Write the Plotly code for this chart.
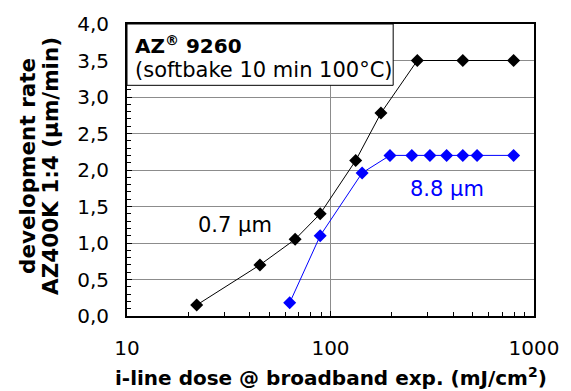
import plotly.graph_objects as go

# Data
dose_07 = [22, 45, 67, 89, 133, 177, 267, 447, 794]
rate_07 = [0.15, 0.70, 1.05, 1.40, 2.13, 2.78, 3.50, 3.50, 3.50]

dose_88 = [63, 89, 143, 196, 251, 308, 372, 447, 525, 794]
rate_88 = [0.18, 1.10, 1.96, 2.20, 2.20, 2.20, 2.20, 2.20, 2.20, 2.20]

x_tickvals = [10, 100, 1000]
x_ticktext = ["10", "100", "1000"]
x_minor = [20, 30, 40, 50, 60, 70, 80, 90, 200, 300, 400, 500, 600, 700, 800, 900]

FONT = "DejaVu Sans"
GRID = "#8c8c8c"

fig = go.Figure()
fig.add_trace(go.Scatter(
    x=dose_07, y=rate_07, mode="lines+markers", name="0.7 µm",
    line=dict(color="black", width=1),
    marker=dict(symbol="diamond", size=10, color="black"),
    cliponaxis=False,
))
fig.add_trace(go.Scatter(
    x=dose_88, y=rate_88, mode="lines+markers", name="8.8 µm",
    line=dict(color="#0000ff", width=1),
    marker=dict(symbol="diamond", size=10, color="#0000ff"),
    cliponaxis=False,
))

fig.update_layout(
    width=571, height=391,
    margin=dict(l=127, r=36, t=16, b=75),
    paper_bgcolor="white", plot_bgcolor="white",
    showlegend=False,
    separators=",.",
    font=dict(family=FONT, size=20, color="black"),
    xaxis=dict(
        type="log", range=[1, 3],
        tickvals=x_tickvals, ticktext=x_ticktext,
        showgrid=True, gridcolor=GRID, gridwidth=1,
        ticks="inside", ticklen=5, tickcolor="black",
        minor=dict(tickvals=x_minor, ticks="inside", ticklen=4,
                   tickcolor="black", showgrid=False),
        showline=True, linecolor="black", linewidth=2, mirror=True,
        zeroline=False,
        ticklabelstandoff=13,
        tickfont=dict(size=20),
    ),
    yaxis=dict(
        range=[0, 4], dtick=0.5, tick0=0, tickformat=".1f",
        showgrid=True, gridcolor=GRID, gridwidth=1,
        ticks="inside", ticklen=5, tickcolor="black",
        minor=dict(dtick=0.1, ticks="inside", ticklen=4,
                   tickcolor="black", showgrid=False),
        showline=True, linecolor="black", linewidth=2, mirror=True,
        zeroline=False,
        ticklabelstandoff=12,
        tickfont=dict(size=20),
    ),
)

# info box in the top-left corner of the plot
fig.add_shape(
    type="rect", xref="paper", yref="paper",
    x0=0, x1=0.654, y0=0.79, y1=1,
    line=dict(color="black", width=1), fillcolor="white", layer="above",
)
fig.add_annotation(
    text="<b>AZ<sup>®</sup> 9260</b>",
    xref="paper", yref="paper", x=0, y=0.929, xshift=6,
    xanchor="left", yanchor="middle", showarrow=False,
    font=dict(size=20, color="black"),
)
fig.add_annotation(
    text="(softbake 10 min 100°C)",
    xref="paper", yref="paper", x=0, y=0.842, xshift=6,
    xanchor="left", yanchor="middle", showarrow=False,
    font=dict(size=21, color="black"),
)
fig.add_annotation(
    text="0.7 µm", x=1.533, y=1.24, showarrow=False,
    bgcolor="white", borderpad=5, font=dict(size=21, color="black"),
)
fig.add_annotation(
    text="8.8 µm", x=2.572, y=1.743, showarrow=False,
    font=dict(size=21, color="#0000ff"),
)
fig.add_annotation(
    text="<b>i-line dose @ broadband exp. (mJ/cm<sup>2</sup>)</b>",
    xref="paper", yref="paper", x=0.5, y=0, yshift=-61,
    xanchor="center", yanchor="middle", showarrow=False,
    font=dict(size=20, color="black"),
)
fig.add_annotation(
    text="<b>development rate</b>",
    xref="paper", yref="paper", x=0, y=0.5, xshift=-100, yshift=4,
    xanchor="center", yanchor="middle", textangle=-90, showarrow=False,
    font=dict(size=21.5, color="black"),
)
fig.add_annotation(
    text="<b>AZ400K 1:4 (µm/min)</b>",
    xref="paper", yref="paper", x=0, y=0.5, xshift=-77, yshift=4,
    xanchor="center", yanchor="middle", textangle=-90, showarrow=False,
    font=dict(size=21.5, color="black"),
)

fig.write_html("out.html")
